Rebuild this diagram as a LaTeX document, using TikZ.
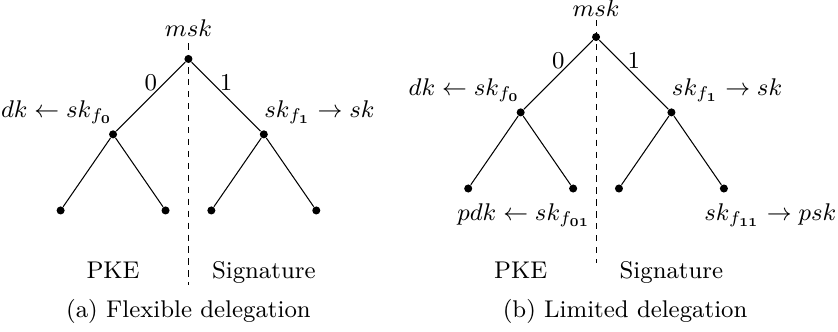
\RequirePackage{fix-cm}
\documentclass[tikz,border=0pt]{standalone}
\usepackage{amsmath}
\usepackage{amssymb}
\usetikzlibrary{positioning}

\begin{document}
\fontsize{9.3pt}{11.2pt}\selectfont
\begin{tikzpicture}[
    on grid,
    dot/.style={circle, fill=black, inner sep=0pt, minimum size=3.1pt},
    keytxt/.style={inner sep=0pt},
    bitlbl/.style={inner sep=2pt},
    cut/.style={dash pattern=on 2.4pt off 2.2pt},
    edge/.style={line width=0.4pt}
]
    \useasboundingbox (0,0) rectangle (11.34,-4.48);
    \coordinate (setline) at (0,-3.762);
    \coordinate (capline) at (0,-4.290);

    % (a) flexible delegation
    \node[dot] (ra) at (2.550,-0.798) {};
    \node[dot, below left=1.02cm and 1.02cm of ra] (fa0) {};
    \node[dot, below right=1.02cm and 1.02cm of ra] (fa1) {};
    \node[dot, below left=1.03cm and 0.71cm of fa0] (fa00) {};
    \node[dot, below right=1.03cm and 0.71cm of fa0] (fa01) {};
    \node[dot, below left=1.03cm and 0.71cm of fa1] (fa10) {};
    \node[dot, below right=1.03cm and 0.71cm of fa1] (fa11) {};
    \coordinate (cuta) at ([yshift=6pt]ra);
    \coordinate (ybota) at (0,-3.857);
    \draw[cut] (cuta) -- (ra |- ybota);
    \draw[edge] (ra) -- node[bitlbl, above] {0} (fa0);
    \draw[edge] (ra) -- node[bitlbl, above] {1} (fa1);
    \draw[edge] (fa0) -- (fa00);
    \draw[edge] (fa0) -- (fa01);
    \draw[edge] (fa1) -- (fa10);
    \draw[edge] (fa1) -- (fa11);
    \node[keytxt, anchor=base] (mska) at ([yshift=8.7pt]ra) {$msk$};
    \node[keytxt, anchor=base east] (dka) at ([yshift=6.5pt]fa0) {$dk \leftarrow sk_{f_{\mathbf{0}}}$};
    \node[keytxt, anchor=base west] (ska) at ([yshift=6.5pt]fa1) {$sk_{f_{\mathbf{1}}} \rightarrow sk$};
    \node[keytxt, anchor=base] (pkea) at (fa0 |- setline) {PKE};
    \node[keytxt, anchor=base] (siga) at (fa1 |- setline) {Signature};
    \node[keytxt, anchor=base] (capa) at (ra |- capline) {(a) Flexible delegation};

    % (b) limited delegation
    \node[dot] (rb) at (8.066,-0.501) {};
    \node[dot, below left=1.02cm and 1.02cm of rb] (fb0) {};
    \node[dot, below right=1.02cm and 1.02cm of rb] (fb1) {};
    \node[dot, below left=1.03cm and 0.71cm of fb0] (fb00) {};
    \node[dot, below right=1.03cm and 0.71cm of fb0] (fb01) {};
    \node[dot, below left=1.03cm and 0.71cm of fb1] (fb10) {};
    \node[dot, below right=1.03cm and 0.71cm of fb1] (fb11) {};
    \coordinate (cutb) at ([yshift=6.5pt]rb);
    \coordinate (ybotb) at (0,-3.559);
    \draw[cut] (cutb) -- (rb |- ybotb);
    \draw[edge] (rb) -- node[bitlbl, above] {0} (fb0);
    \draw[edge] (rb) -- node[bitlbl, above] {1} (fb1);
    \draw[edge] (fb0) -- (fb00);
    \draw[edge] (fb0) -- (fb01);
    \draw[edge] (fb1) -- (fb10);
    \draw[edge] (fb1) -- (fb11);
    \node[keytxt, anchor=base] (mskb) at ([yshift=7.8pt]rb) {$msk$};
    \node[keytxt, anchor=base east] (dkb) at ([yshift=6.5pt]fb0) {$dk \leftarrow sk_{f_{\mathbf{0}}}$};
    \node[keytxt, anchor=base west] (skb) at ([yshift=6.5pt]fb1) {$sk_{f_{\mathbf{1}}} \rightarrow sk$};
    \node[keytxt, anchor=base east] (pdkb) at ([xshift=6.9pt, yshift=-12.3pt]fb01) {$pdk \leftarrow sk_{f_{\mathbf{01}}}$};
    \node[keytxt, anchor=base west] (pskb) at ([xshift=-7.7pt, yshift=-12.3pt]fb11) {$sk_{f_{\mathbf{11}}} \rightarrow psk$};
    \node[keytxt, anchor=base] (pkeb) at (fb0 |- setline) {PKE};
    \node[keytxt, anchor=base] (sigb) at (fb1 |- setline) {Signature};
    \node[keytxt, anchor=base] (capb) at (8.459,0 |- capline) {(b) Limited delegation};
\end{tikzpicture}
\end{document}
